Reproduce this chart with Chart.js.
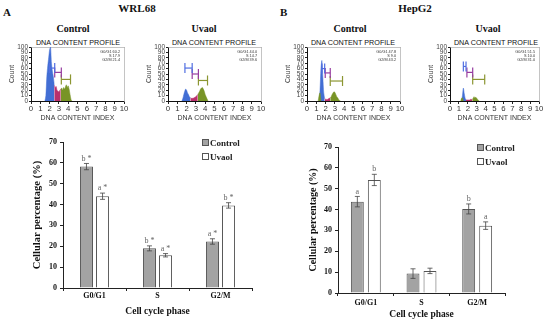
<!DOCTYPE html>
<html><head><meta charset="utf-8">
<script src="https://cdn.jsdelivr.net/npm/chart.js@4"></script>
<style>
html,body{margin:0;padding:0;background:#fff;}
#fig{position:relative;width:550px;height:324px;overflow:hidden;background:#fff;}
canvas{position:absolute;}
.t{position:absolute;white-space:nowrap;color:#111;}
.serif{font-family:"Liberation Serif","Times New Roman",serif;font-weight:bold;}
.sans{font-family:"Liberation Sans",Arial,sans-serif;}
.c{transform:translate(-50%,-50%);}
.lg{position:absolute;font-family:"Liberation Serif",serif;font-weight:bold;font-size:9px;color:#222;transform:translateY(-50%);}
.sq{display:inline-block;width:5px;height:5px;border:1px solid #555;margin-right:1px;vertical-align:0px;}
</style></head>
<body><div id="fig">
<div class="t serif" style="left:3px;top:6px;font-size:11px;">A</div>
<div class="t serif c" style="left:137px;top:8px;font-size:11px;">WRL68</div>
<div class="t serif" style="left:280px;top:6px;font-size:11px;">B</div>
<div class="t serif c" style="left:415px;top:8px;font-size:11px;">HepG2</div>

<div class="t serif c" style="left:73px;top:28px;font-size:10px;">Control</div>
<div class="t serif c" style="left:204px;top:28px;font-size:10px;">Uvaol</div>
<div class="t serif c" style="left:350px;top:28px;font-size:10px;">Control</div>
<div class="t serif c" style="left:488px;top:28px;font-size:10px;">Uvaol</div>

<div class="t sans c" style="left:78px;top:42px;font-size:7.2px;">DNA CONTENT PROFILE</div>
<div class="t sans c" style="left:214px;top:42px;font-size:7.2px;">DNA CONTENT PROFILE</div>
<div class="t sans c" style="left:353px;top:42px;font-size:7.2px;">DNA CONTENT PROFILE</div>
<div class="t sans c" style="left:496px;top:42px;font-size:7.2px;">DNA CONTENT PROFILE</div>

<canvas id="h1" width="135" height="86" style="left:0px;top:36px"></canvas>
<canvas id="h2" width="135" height="86" style="left:137px;top:36px"></canvas>
<canvas id="h3" width="135" height="86" style="left:276px;top:36px"></canvas>
<canvas id="h4" width="131" height="86" style="left:419px;top:36px"></canvas>

<canvas id="b1" width="275" height="199" style="left:0px;top:125px"></canvas>
<canvas id="b2" width="275" height="199" style="left:275px;top:125px"></canvas>

<div class="lg" style="left:202px;top:143px;"><span class="sq" style="background:#a3a3a3"></span>Control</div>
<div class="lg" style="left:202px;top:157px;"><span class="sq" style="background:#fff"></span>Uvaol</div>
<div class="lg" style="left:477px;top:148px;"><span class="sq" style="background:#a3a3a3"></span>Control</div>
<div class="lg" style="left:477px;top:162px;"><span class="sq" style="background:#fff"></span>Uvaol</div>
</div>
<script>
// ---------- Bar chart data ----------
const phases = ['G0/G1', 'S', 'G2/M'];
const seriesNames = ['Control', 'Uvaol'];
const yTicksBar = [0, 10, 20, 30, 40, 50, 60, 70];

const wrlControl = [58.2, 19.0, 22.3];
const wrlControlErr = [1.5, 1.2, 1.3];
const wrlUvaol = [44.0, 15.7, 39.6];
const wrlUvaolErr = [1.5, 0.8, 1.3];
const wrlControlSig = ['b *', 'b *', 'a *'];
const wrlUvaolSig = ['a *', 'a *', 'b *'];

const hepControl = [43.8, 9.3, 40.3];
const hepControlErr = [2.5, 2.3, 2.4];
const hepUvaol = [54.2, 10.6, 32.3];
const hepUvaolErr = [2.7, 1.3, 1.8];
const hepControlSig = ['a', '', 'b'];
const hepUvaolSig = ['b', '', 'a'];

// ---------- Histogram data (counts per 0.1 DNA index bin) ----------
const dnaIndexTicks = [0,1,2,3,4,5,6,7,8,9,10];
const countTicks = [0,10,20,30,40,50,60,70,80,90,100];

// WRL68 control
const wrlCtrlG1Start = 1.5, wrlCtrlG1 = [0, 10, 45, 65, 80, 95, 100, 70, 55, 45, 30];
const wrlCtrlSStart = 2.5, wrlCtrlS = [30, 25, 27, 20, 18, 17, 20, 22];
const wrlCtrlG2Start = 3.2, wrlCtrlG2 = [22, 24, 20, 25, 22, 26, 30, 25, 28, 22, 12, 3, 0];
const wrlCtrlBrackets = [[2.0, 2.55, 61], [2.55, 3.26, 53], [3.26, 4.25, 40]];
const wrlCtrlStats = ['G0/G1 60.2', 'S 17.9', 'G2/M 21.4'];
// WRL68 uvaol
const wrlUvG1Start = 1.5, wrlUvG1 = [0, 5, 12, 18, 22, 20, 15, 12, 8, 6];
const wrlUvSStart = 2.4, wrlUvS = [6, 5, 5, 5, 6, 7, 8, 10, 12];
const wrlUvG2Start = 3.2, wrlUvG2 = [12, 15, 18, 22, 24, 25, 22, 18, 12, 8, 4, 0];
const wrlUvBrackets = [[1.82, 2.6, 61], [2.6, 3.27, 50], [3.27, 4.25, 38]];
const wrlUvStats = ['G0/G1 44.0', 'S 14.7', 'G2/M 39.6'];
// HepG2 control
const hepCtrlG1Start = 1.3, hepCtrlG1 = [0, 20, 60, 75, 45, 15, 5];
const hepCtrlSStart = 1.9, hepCtrlS = [5, 3, 3, 3, 4, 5, 6];
const hepCtrlG2aStart = 1.2, hepCtrlG2a = [0, 10, 15, 0];
const hepCtrlG2Start = 2.5, hepCtrlG2 = [6, 8, 12, 15, 17, 16, 12, 8, 6, 3, 1, 0];
const hepCtrlBrackets = [[1.6, 1.9, 60], [1.96, 2.5, 52], [2.5, 3.82, 37]];
const hepCtrlStats = ['G0/G1 47.8', 'S 9.0', 'G2/M 43.2'];
// HepG2 uvaol
const hepUvG1Start = 1.3, hepUvG1 = [0, 10, 24, 14, 5, 2];
const hepUvSStart = 1.8, hepUvS = [2, 2, 2, 2, 2, 3, 3, 3];
const hepUvG2aStart = 1.2, hepUvG2a = [0, 5, 6, 0];
const hepUvG2Start = 2.5, hepUvG2 = [3, 5, 8, 6, 7, 5, 3, 1, 0];
const hepUvBrackets = [[1.5, 1.8, 64], [1.9, 2.55, 53], [2.55, 3.9, 40]];
const hepUvStats = ['G0/G1 51.5', 'S 10.0', 'G2/M 31.0'];

// ---------- styles ----------
const BLUE = 'rgb(66,110,212)', MAG = 'rgb(186,48,108)', GRN = 'rgb(120,148,38)';
const BBLUE = 'rgb(80,110,225)', BPUR = 'rgb(150,60,160)', BGRN = 'rgb(140,150,50)';
const SANS = '"Liberation Sans", Arial, sans-serif';
const SERIF = '"Liberation Serif", "Times New Roman", serif';

function areaDs(vals, start, color) {
  return {
    data: vals.map((v, i) => ({ x: Math.round((start + i * 0.1) * 100) / 100, y: v })),
    fill: 'origin', backgroundColor: color, borderColor: color, borderWidth: 0.5,
    pointRadius: 0, tension: 0.25, order: 2
  };
}
function bracketDs(b, color) {
  return {
    data: [{ x: b[0], y: b[2] }, { x: b[1], y: b[2] }],
    borderColor: color, borderWidth: 1.2, fill: false, tension: 0,
    pointStyle: 'line', pointRadius: 5, pointRotation: 90,
    pointBorderColor: color, pointBorderWidth: 1.2, pointBackgroundColor: color, order: 1
  };
}
const statsPlugin = {
  id: 'stats',
  afterDraw(chart, args, opts) {
    const ctx = chart.ctx, a = chart.chartArea;
    ctx.save();
    ctx.font = '3.8px ' + SANS;
    ctx.fillStyle = '#333';
    ctx.textAlign = 'right';
    ctx.textBaseline = 'middle';
    opts.lines.forEach((s, i) => ctx.fillText(s, a.right - 4, a.top + 5 + i * 4));
    ctx.restore();
  }
};
function histogram(id, areas, brackets, stats) {
  const ds = [];
  areas.forEach(a => ds.push(areaDs(a[0], a[1], a[2])));
  brackets.forEach((b, i) => ds.push(bracketDs(b, [BBLUE, BPUR, BGRN][i])));
  new Chart(document.getElementById(id), {
    type: 'line',
    data: { datasets: ds },
    plugins: [statsPlugin],
    options: {
      responsive: false, animation: false, devicePixelRatio: 1,
      layout: { padding: { top: 11, right: 11, left: 0, bottom: 0 } },
      plugins: { legend: { display: false }, tooltip: { enabled: false }, stats: { lines: stats } },
      scales: {
        x: {
          type: 'linear', min: 0, max: 10, afterFit: s => { s.height = 21; },
          afterBuildTicks: s => { s.ticks = dnaIndexTicks.map(v => ({ value: v })); },
          ticks: { font: { size: 7.8, family: SANS }, color: '#333', padding: 0, autoSkip: false, maxRotation: 0 },
          grid: { drawOnChartArea: false, tickLength: 3, color: '#222' },
          border: { color: '#111', width: 1 },
          title: { display: true, text: 'DNA CONTENT INDEX', font: { size: 7, family: SANS }, color: '#333', padding: { top: 0, bottom: 0 } }
        },
        y: {
          min: 0, max: 100, afterFit: s => { s.width = 31; },
          afterBuildTicks: s => { s.ticks = countTicks.map(v => ({ value: v })); },
          ticks: { font: { size: 6.5, family: SANS }, color: '#444', padding: 1, autoSkip: false },
          grid: { drawOnChartArea: false, tickLength: 2, color: '#222' },
          border: { color: '#111', width: 1 },
          title: { display: true, text: 'Count', font: { size: 6.8, family: SANS }, color: '#333', padding: { top: 8, bottom: 0 } }
        },
        x2: {
          type: 'linear', position: 'top', min: 0, max: 10, afterFit: s => { s.height = 0; },
          ticks: { display: false }, grid: { display: false }, border: { color: '#aaa', width: 0.7 }
        },
        y2: {
          position: 'right', min: 0, max: 100, afterFit: s => { s.width = 0; },
          ticks: { display: false }, grid: { display: false }, border: { color: '#aaa', width: 0.7 }
        }
      }
    }
  });
}

histogram('h1', [[wrlCtrlG1, wrlCtrlG1Start, BLUE], [wrlCtrlS, wrlCtrlSStart, MAG], [wrlCtrlG2, wrlCtrlG2Start, GRN]], wrlCtrlBrackets, wrlCtrlStats);
histogram('h2', [[wrlUvG1, wrlUvG1Start, BLUE], [wrlUvS, wrlUvSStart, MAG], [wrlUvG2, wrlUvG2Start, GRN]], wrlUvBrackets, wrlUvStats);
histogram('h3', [[hepCtrlG2a, hepCtrlG2aStart, GRN], [hepCtrlG1, hepCtrlG1Start, BLUE], [hepCtrlS, hepCtrlSStart, MAG], [hepCtrlG2, hepCtrlG2Start, GRN]], hepCtrlBrackets, hepCtrlStats);
histogram('h4', [[hepUvG2a, hepUvG2aStart, GRN], [hepUvG1, hepUvG1Start, BLUE], [hepUvS, hepUvSStart, MAG], [hepUvG2, hepUvG2Start, GRN]], hepUvBrackets, hepUvStats);

// ---------- bar charts ----------
const errPlugin = {
  id: 'errbars',
  afterDatasetsDraw(chart, args, opts) {
    const ctx = chart.ctx, ys = chart.scales.y;
    ctx.save();
    chart.data.datasets.forEach((d, di) => {
      const meta = chart.getDatasetMeta(di);
      meta.data.forEach((el, i) => {
        const v = d.data[i], e = opts.errs[di][i];
        const yt = ys.getPixelForValue(v + e), yb = ys.getPixelForValue(v - e);
        ctx.strokeStyle = '#444'; ctx.lineWidth = 0.8;
        ctx.beginPath();
        ctx.moveTo(el.x, yt); ctx.lineTo(el.x, yb);
        ctx.moveTo(el.x - 2.5, yt); ctx.lineTo(el.x + 2.5, yt);
        ctx.moveTo(el.x - 2.5, yb); ctx.lineTo(el.x + 2.5, yb);
        ctx.stroke();
        const s = opts.sigs[di][i];
        if (s) {
          ctx.font = '8px ' + SERIF; ctx.fillStyle = '#666';
          ctx.textAlign = 'center'; ctx.textBaseline = 'bottom';
          ctx.fillText(s, el.x, yt - 1);
        }
      });
    });
    ctx.restore();
  }
};
function barChart(id, ctrl, uv, errs, sigs, lay) {
  new Chart(document.getElementById(id), {
    type: 'bar',
    data: {
      labels: phases,
      datasets: [
        { label: seriesNames[0], data: ctrl, backgroundColor: '#a3a3a3', borderColor: '#555', borderWidth: 1, borderSkipped: 'bottom', barPercentage: lay.bp, categoryPercentage: lay.cp },
        { label: seriesNames[1], data: uv, backgroundColor: '#fff', borderColor: '#555', borderWidth: 1, borderSkipped: 'bottom', barPercentage: lay.bp, categoryPercentage: lay.cp }
      ]
    },
    plugins: [errPlugin],
    options: {
      responsive: false, animation: false, devicePixelRatio: 1,
      layout: { padding: { top: lay.top, right: lay.right, left: 0, bottom: 0 } },
      plugins: { legend: { display: false }, tooltip: { enabled: false }, errbars: { errs: errs, sigs: sigs } },
      scales: {
        x: {
          afterFit: s => { s.height = lay.xh; },
          ticks: { font: { size: 8, family: SERIF, weight: 'bold' }, color: '#111', padding: lay.xpad, maxRotation: 0 },
          grid: { drawOnChartArea: false, tickLength: 3, color: '#222', offset: true },
          border: { color: '#222', width: 1 },
          title: { display: true, text: 'Cell cycle phase', font: { size: 9.5, family: SERIF, weight: 'bold' }, color: '#111', padding: { top: 0, bottom: lay.xtpad } }
        },
        y: {
          min: 0, max: 70, afterFit: s => { s.width = 63; },
          afterBuildTicks: s => { s.ticks = yTicksBar.map(v => ({ value: v })); },
          ticks: { font: { size: 8, family: SERIF, weight: 'bold' }, color: '#111', padding: 3 },
          grid: { drawOnChartArea: false, tickLength: 3, color: '#222' },
          border: { color: '#222', width: 1 },
          title: { display: true, text: 'Cellular percentage (%)', font: { size: lay.ytsize, family: SERIF, weight: 'bold' }, color: '#111', padding: { top: lay.ytpad, bottom: 0 } }
        }
      }
    }
  });
}
barChart('b1', wrlControl, wrlUvaol, [wrlControlErr, wrlUvaolErr], [wrlControlSig, wrlUvaolSig],
  { top: 17, right: 23, xh: 36, xpad: 0, xtpad: 7, ytsize: 10.5, ytpad: 31, bp: 0.81, cp: 0.51 });
barChart('b2', hepControl, hepUvaol, [hepControlErr, hepUvaolErr], [hepControlSig, hepUvaolSig],
  { top: 22, right: 45, xh: 31, xpad: 2, xtpad: 4, ytsize: 10, ytpad: 32, bp: 0.76, cp: 0.61 });
</script>
</body></html>
